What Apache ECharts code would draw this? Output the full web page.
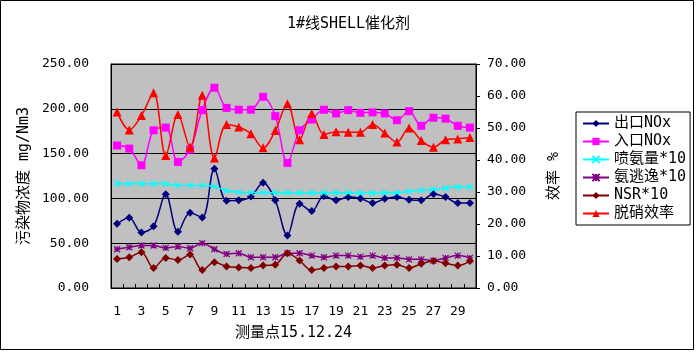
<!DOCTYPE html>
<html>
<head>
<meta charset="utf-8">
<script src="https://cdn.jsdelivr.net/npm/echarts@6/dist/echarts.min.js"></script>
<style>
html,body{margin:0;padding:0;background:#fff;}
#chart{width:697px;height:353px;}
</style>
</head>
<body>
<div id="chart"></div>
<script>
//测量点
var points = [];
for (var i = 1; i <= 30; i++) points.push(String(i));

//各系列数据
var outNOx = [71.6,78.4,62,69,104.5,62.7,84,78.7,133,97.4,97.8,102,117.5,97.8,58.6,94,85.8,102.6,97.8,101.5,100,94.8,99.6,101.5,98.5,97.8,105,101.5,94.8,94.8];
var inNOx = [159,155.6,137,176,179,140.7,154.5,198.5,223.5,201,199,199,213.4,191.8,139.6,176,188,199,194.8,198.5,195.5,196,194.8,187.3,197.4,181,190,189,181,179];
var nh3Inject = [116.4,116.4,116.4,116.4,116.4,114.5,114.5,114.5,113.4,108.5,107,106.5,106.5,106.3,106.3,106.3,106.3,106.3,106.3,106.3,106,106,106.3,106.3,107.8,109,110,111.6,112.7,112.7];
var nh3Slip = [43.3,45.5,47.4,47.4,44.8,46.3,44.4,50,43.3,38,38.8,34.3,34.3,34.3,38.8,38.8,36.2,34.3,36.2,36.2,35,36.2,33.6,33.6,32,32,30.6,33.6,36.2,33.6];
var nsr = [32.5,34.3,40,22.4,33.6,31.3,37.3,20,28.7,24,23,22.4,25,26,38.8,30.6,20,22.4,23.9,24,25,22.4,25,26,22.4,27,30,27.6,25,30];
var efficiency = [55,49.4,53.9,61,41.4,54.2,44,60.2,40.6,51.1,50.3,48.2,43.8,49.2,57.6,46.3,54.5,48,48.8,48.7,48.7,51.1,48.4,45.6,50,46.1,44,46.3,46.6,47];

//刻度
var leftTicks = [0, 50, 100, 150, 200, 250];
var rightTicks = [0, 10, 20, 30, 40, 50, 60, 70];

var numFont = 'DejaVu Sans Mono, Noto Sans CJK SC';

//星号 / 叉号 标记
var crossPath = 'path://M0,0L10,10M10,0L0,10';
var starPath = 'path://M0,0L10,10M10,0L0,10M5,0L5,10M0,5L10,5';

function mkSeries(name, data, color, symbol, size, yIdx, strokeMark) {
	var s = {
		name: name,
		type: 'line',
		data: data,
		yAxisIndex: yIdx,
		smooth: 0.35,
		symbol: symbol,
		symbolSize: size,
		showAllSymbol: true,
		lineStyle: {color: color, width: 1.5},
		itemStyle: {color: color},
		animation: false
	};
	if (strokeMark) {
		s.itemStyle = {color: 'rgba(0,0,0,0)', borderColor: color, borderWidth: 1.2};
	}
	return s;
}

var myChart = echarts.init(document.getElementById('chart'));
var option = {
	backgroundColor: '#fff',
	animation: false,
	title: {
		text: '1#线SHELL催化剂',
		left: 'center',
		top: 12,
		textStyle: {fontFamily: numFont, fontSize: 15, fontWeight: 'normal', color: '#000'}
	},
	graphic: [{
		type: 'rect',
		shape: {x: 0.5, y: 0.5, width: 693, height: 349},
		style: {fill: 'none', stroke: '#000', lineWidth: 1},
		silent: true
	}],
	legend: {
		orient: 'vertical',
		left: 576,
		top: 112,
		width: 114,
		padding: [4, 4, 4, 6],
		itemGap: 3,
		itemWidth: 26,
		itemHeight: 9,
		backgroundColor: '#fff',
		borderColor: '#000',
		borderWidth: 1,
		borderRadius: 0,
		textStyle: {fontFamily: numFont, fontSize: 15, color: '#000'},
		data: ['出口NOx', '入口NOx', '喷氨量*10', '氨逃逸*10', 'NSR*10', '脱硝效率']
	},
	grid: {
		left: 111,
		top: 64,
		width: 365,
		height: 224,
		show: true,
		backgroundColor: '#C0C0C0',
		borderColor: '#000',
		borderWidth: 1
	},
	xAxis: {
		type: 'category',
		data: points,
		boundaryGap: true,
		name: '测量点15.12.24',
		nameLocation: 'middle',
		nameGap: 38,
		nameTextStyle: {fontFamily: numFont, fontSize: 15, color: '#000'},
		axisLine: {lineStyle: {color: '#000'}},
		axisTick: {show: true, inside: true, length: 4, interval: 0, lineStyle: {color: '#000'}},
		axisLabel: {interval: 1, margin: 17, fontFamily: numFont, fontSize: 13, color: '#000'},
		splitLine: {show: false}
	},
	yAxis: [{
		type: 'value',
		min: leftTicks[0],
		max: leftTicks[leftTicks.length - 1],
		interval: 50,
		name: '污染物浓度 mg/Nm3',
		nameLocation: 'middle',
		nameGap: 77,
		nameRotate: 90,
		nameTextStyle: {fontFamily: numFont, fontSize: 15, color: '#000'},
		axisLine: {show: true, lineStyle: {color: '#000'}},
		axisTick: {show: false},
		axisLabel: {margin: 22, fontFamily: numFont, fontSize: 13, color: '#000',
			formatter: function (v) { return v.toFixed(2); }},
		splitLine: {show: true, lineStyle: {color: '#000', width: 1}}
	}, {
		type: 'value',
		position: 'right',
		min: rightTicks[0],
		max: rightTicks[rightTicks.length - 1],
		interval: 10,
		name: '效率 %',
		nameLocation: 'middle',
		nameGap: 71,
		nameRotate: 90,
		nameTextStyle: {fontFamily: numFont, fontSize: 15, color: '#000'},
		axisLine: {show: true, lineStyle: {color: '#000'}},
		axisTick: {show: true, inside: false, length: 4, lineStyle: {color: '#000'}},
		axisLabel: {margin: 11, fontFamily: numFont, fontSize: 13, color: '#000',
			formatter: function (v) { return v.toFixed(2); }},
		splitLine: {show: false}
	}],
	series: [
		mkSeries('出口NOx', outNOx, '#000080', 'diamond', 8, 0),
		mkSeries('入口NOx', inNOx, '#FF00FF', 'rect', 8, 0),
		mkSeries('喷氨量*10', nh3Inject, '#00FFFF', crossPath, 6, 0, true),
		mkSeries('氨逃逸*10', nh3Slip, '#800080', starPath, 6, 0, true),
		mkSeries('NSR*10', nsr, '#800000', 'diamond', 8, 0),
		mkSeries('脱硝效率', efficiency, '#FF0000', 'triangle', 9, 1)
	]
};

//为echarts对象加载数据
myChart.setOption(option);
window.onresize = myChart.resize;
</script>
</body>
</html>
